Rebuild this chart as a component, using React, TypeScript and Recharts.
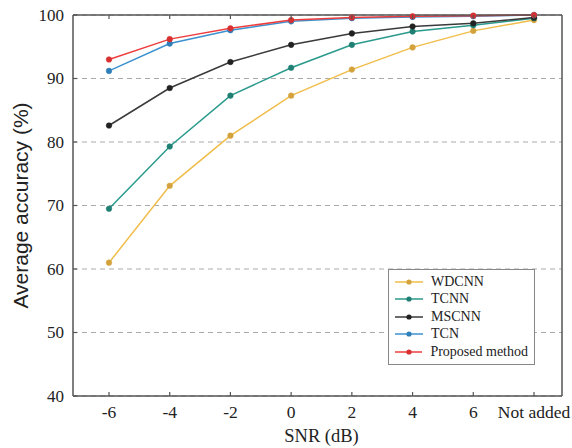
import React from 'react';
import { LineChart, Line, XAxis, YAxis, CartesianGrid, Legend } from 'recharts';

const categories = ['-6', '-4', '-2', '0', '2', '4', '6', 'Not added'];
const wdcnn = [61.0, 73.1, 81.0, 87.3, 91.4, 94.9, 97.5, 99.2];
const tcnn = [69.5, 79.3, 87.3, 91.7, 95.3, 97.4, 98.4, 99.5];
const mscnn = [82.6, 88.5, 92.6, 95.3, 97.1, 98.2, 98.7, 99.6];
const tcn = [91.2, 95.5, 97.6, 99.0, 99.5, 99.7, 99.8, 100.0];
const proposed = [93.0, 96.2, 97.9, 99.2, 99.6, 99.8, 99.9, 100.0];
const yTicks = [40, 50, 60, 70, 80, 90, 100];
const xTitle = 'SNR (dB)';
const yTitle = 'Average accuracy (%)';

const seriesDefs = [
  { key: 'WDCNN', values: wdcnn, color: '#f0bd4a', dot: '#d4a23c' },
  { key: 'TCNN', values: tcnn, color: '#2a9a8c', dot: '#1f7f73' },
  { key: 'MSCNN', values: mscnn, color: '#3a3a3a', dot: '#222222' },
  { key: 'TCN', values: tcn, color: '#3c91cf', dot: '#2f7fba' },
  { key: 'Proposed method', values: proposed, color: '#ee3d3d', dot: '#d83030' },
];

const data = categories.map((c, i) => {
  const row: any = { cat: c };
  seriesDefs.forEach((s) => {
    row[s.key] = s.values[i];
  });
  return row;
});

const serif = '"Liberation Serif", "Times New Roman", serif';
const sans = '"Liberation Sans", Arial, sans-serif';
const axisColor = '#555';

const BottomTick = (props: any) => {
  const { x, y, payload } = props;
  return (
    <g>
      <line x1={x} x2={x} y1={y} y2={y - 4} stroke={axisColor} strokeWidth={1.2} />
      <text x={x} y={y + 22} textAnchor="middle" fontFamily={serif} fontSize={17.5} fill="#222">
        {payload.value}
      </text>
    </g>
  );
};

const TopTick = (props: any) => {
  const { x, y } = props;
  return <line x1={x} x2={x} y1={y} y2={y + 4} stroke={axisColor} strokeWidth={1.2} />;
};

const LeftTick = (props: any) => {
  const { x, y, payload } = props;
  return (
    <g>
      <line x1={x} x2={x + 4} y1={y} y2={y} stroke={axisColor} strokeWidth={1.2} />
      <text x={x - 9} y={y} dy="0.35em" textAnchor="end" fontFamily={serif} fontSize={17} fill="#222">
        {payload.value}
      </text>
    </g>
  );
};

const RightTick = (props: any) => {
  const { x, y } = props;
  return <line x1={x} x2={x - 4} y1={y} y2={y} stroke={axisColor} strokeWidth={1.2} />;
};

const XTitle = (props: any) => {
  const vb = props.viewBox || { x: 0, y: 0, width: 0, height: 0 };
  return (
    <text x={vb.x + vb.width / 2 + 4} y={vb.y + vb.height + 16} textAnchor="middle" fontFamily={serif} fontSize={18.5} fill="#222">
      {xTitle}
    </text>
  );
};

const YTitle = (props: any) => {
  const vb = props.viewBox || { x: 0, y: 0, width: 0, height: 0 };
  const cx = vb.x + 28;
  const cy = vb.y + vb.height / 2;
  return (
    <text
      x={cx}
      y={cy}
      transform={`rotate(-90, ${cx}, ${cy})`}
      textAnchor="middle"
      fontFamily={sans}
      fontSize={21}
      fill="#222"
    >
      {yTitle}
    </text>
  );
};

const renderLegend = () => (
  <div
    style={{
      border: '1px solid #888',
      background: '#fff',
      padding: '3px 6px 3px 6px',
      boxSizing: 'border-box',
      width: 147,
    }}
  >
    {seriesDefs.map((s) => (
      <div key={s.key} style={{ display: 'flex', alignItems: 'center', height: 17.5 }}>
        <svg width={28} height={10} style={{ marginRight: 8 }}>
          <line x1={0} x2={28} y1={5} y2={5} stroke={s.color} strokeWidth={1.5} />
          <circle cx={14} cy={5} r={2.6} fill={s.dot} />
        </svg>
        <span style={{ fontFamily: serif, fontSize: 14, color: '#222', whiteSpace: 'nowrap' }}>{s.key}</span>
      </div>
    ))}
  </div>
);

export default function App() {
  return (
    <div style={{ position: 'absolute', left: 0, top: 0, width: 572, height: 448, background: '#fff' }}>
      <LineChart width={572} height={448} data={data} margin={{ top: 14, right: 9, bottom: 22, left: 0 }}>
        <CartesianGrid
          xAxisId="b"
          yAxisId="l"
          vertical={false}
          stroke="#aaa"
          strokeDasharray="5 4"
        />
        <XAxis
          xAxisId="b"
          dataKey="cat"
          height={30}
          padding={{ left: 36, right: 28 }}
          interval={0}
          tickSize={0}
          tickMargin={0}
          tick={<BottomTick />}
          stroke={axisColor}
          strokeWidth={1.5}
          label={<XTitle />}
        />
        <XAxis
          xAxisId="t"
          dataKey="cat"
          orientation="top"
          height={1}
          padding={{ left: 36, right: 28 }}
          interval={0}
          tickSize={0}
          tickMargin={0}
          tick={<TopTick />}
          stroke={axisColor}
          strokeWidth={1.5}
        />
        <YAxis
          yAxisId="l"
          domain={[40, 100]}
          ticks={yTicks}
          width={73}
          tickSize={0}
          tickMargin={0}
          tick={<LeftTick />}
          stroke={axisColor}
          strokeWidth={1.5}
          label={<YTitle />}
        />
        <YAxis
          yAxisId="r"
          orientation="right"
          domain={[40, 100]}
          ticks={yTicks}
          width={1}
          tickSize={0}
          tickMargin={0}
          tick={<RightTick />}
          stroke={axisColor}
          strokeWidth={1.5}
        />
        <Legend
          layout="vertical"
          align="center"
          verticalAlign="middle"
          content={renderLegend}
          wrapperStyle={{ left: 388, top: 269, width: 147, height: 'auto' }}
        />
        {seriesDefs.map((s) => (
          <Line
            key={s.key}
            xAxisId="b"
            yAxisId="l"
            type="linear"
            dataKey={s.key}
            stroke={s.color}
            strokeWidth={1.5}
            dot={{ r: 2.8, fill: s.dot, stroke: s.dot, strokeWidth: 0.5 }}
            activeDot={false}
            isAnimationActive={false}
          />
        ))}
      </LineChart>
    </div>
  );
}
